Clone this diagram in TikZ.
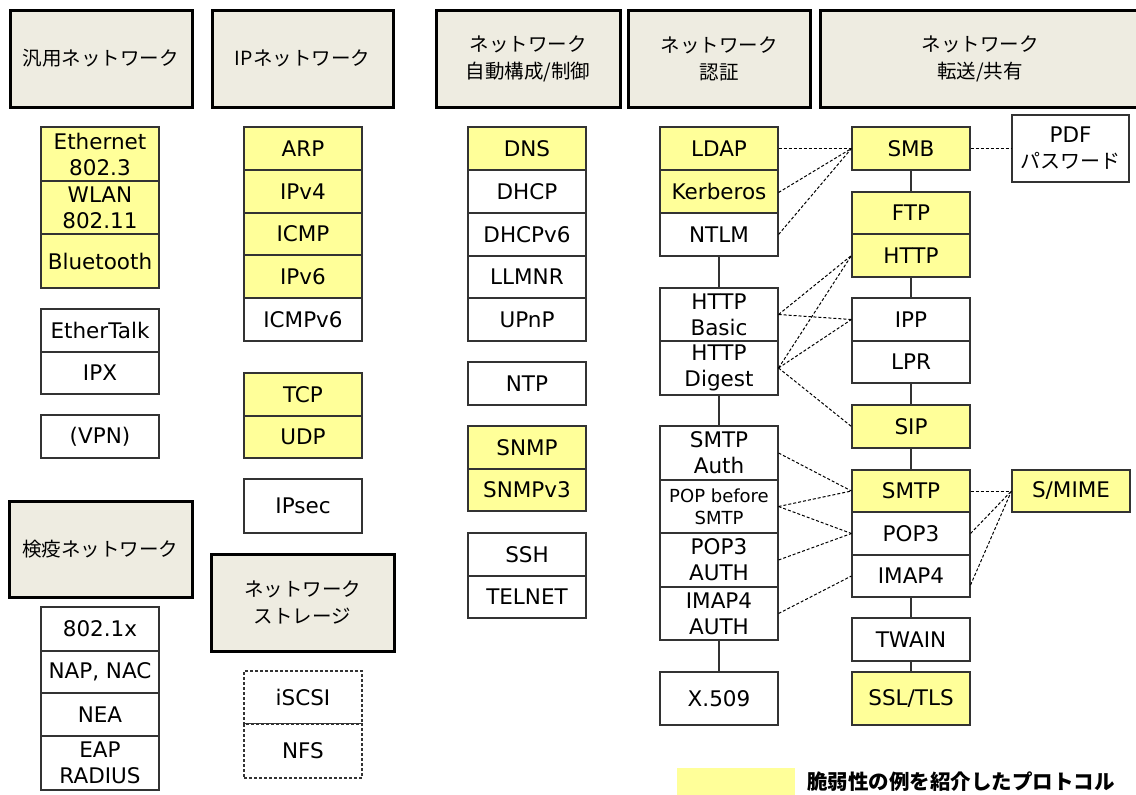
\documentclass[tikz,border=0pt]{standalone}
\usepackage{fontspec}
\setmainfont{DejaVu Sans}
\newfontfamily\cjk{Noto Sans CJK JP}
\definecolor{hdrfill}{HTML}{EEECE1}
\definecolor{vuln}{HTML}{FFFF99}
\definecolor{boxline}{HTML}{333333}
\begin{document}
\begin{tikzpicture}[x=1pt,y=-1pt,
  cell/.style={draw=boxline,line width=1.1pt,fill=white,minimum width=118pt,inner sep=0pt,align=center,font=\fontsize{21.5}{26}\selectfont},
  yc/.style={cell,fill=vuln},
  hdr/.style={draw=black,line width=3pt,fill=hdrfill,inner sep=0pt,align=center,font=\cjk\fontsize{19.5}{27}\selectfont},
  dl/.style={line width=1pt,dash pattern=on 3pt off 2pt},
  sl/.style={line width=1.1pt,draw=boxline}]
\useasboundingbox (0,0) rectangle (1136,795);
% headers
\node[hdr,minimum width=182pt,minimum height=97pt] (h1) at (101,58.5) {汎用ネットワーク};
\node[hdr,minimum width=181pt,minimum height=97pt] (h2) at (302.5,58.5) {IPネットワーク};
\node[hdr,minimum width=184pt,minimum height=97pt] (h3) at (528,58.5) {ネットワーク\\自動構成/制御};
\node[hdr,minimum width=182pt,minimum height=97pt] (h4) at (719,58.5) {ネットワーク\\認証};
\node[hdr,minimum width=330pt,minimum height=97pt] (h5) at (985,58.5) {\hspace*{-10pt}ネットワーク\\\hspace*{-10pt}転送/共有};
\node[hdr,minimum width=183pt,minimum height=96pt] (h6) at (100.5,549) {検疫ネットワーク};
\node[hdr,minimum width=183pt,minimum height=97pt] (h7) at (302.5,602.5) {ネットワーク\\ストレージ};
% column 1
\node[yc,minimum height=54pt] (eth) at (100,154) {Ethernet\\802.3};
\node[yc,minimum height=53pt] (wlan) at (100,207.5) {WLAN\\802.11};
\node[yc,minimum height=54pt] (bt) at (100,261) {Bluetooth};
\node[cell,minimum height=43pt] (etalk) at (100,330.5) {EtherTalk};
\node[cell,minimum height=42pt] (ipx) at (100,373) {IPX};
\node[cell,minimum height=43pt] (vpn) at (100,436.5) {(VPN)};
\node[cell,minimum height=44pt] (dot1x) at (100,629) {802.1x};
\node[cell,minimum height=42pt] (nap) at (100,672) {NAP, NAC};
\node[cell,minimum height=43pt] (nea) at (100,714.5) {NEA};
\node[cell,minimum height=54pt] (eap) at (100,763) {EAP\\RADIUS};
% column 2
\node[yc,minimum height=43pt] (arp) at (303,148.5) {ARP};
\node[yc,minimum height=43pt] (ipv4) at (303,191.5) {IPv4};
\node[yc,minimum height=42pt] (icmp) at (303,234) {ICMP};
\node[yc,minimum height=43pt] (ipv6) at (303,276.5) {IPv6};
\node[cell,minimum height=43pt] (icmpv6) at (303,319.5) {ICMPv6};
\node[yc,minimum height=43pt] (tcp) at (303,394.5) {TCP};
\node[yc,minimum height=42pt] (udp) at (303,437) {UDP};
\node[cell,minimum height=54pt] (ipsec) at (303,506) {IPsec};
\node[cell,densely dashed,minimum height=53pt] (iscsi) at (303,697.5) {iSCSI};
\node[cell,densely dashed,minimum height=54pt] (nfs) at (303,751) {NFS};
% column 3
\node[yc,minimum height=43pt] (dns) at (527,148.5) {DNS};
\node[cell,minimum height=43pt] (dhcp) at (527,191.5) {DHCP};
\node[cell,minimum height=43pt] (dhcpv6) at (527,234.5) {DHCPv6};
\node[cell,minimum height=42pt] (llmnr) at (527,277) {LLMNR};
\node[cell,minimum height=43pt] (upnp) at (527,319.5) {UPnP};
\node[cell,minimum height=43pt] (ntp) at (527,383.5) {NTP};
\node[yc,minimum height=43pt] (snmp) at (527,447.5) {SNMP};
\node[yc,minimum height=42pt] (snmpv3) at (527,490) {SNMPv3};
\node[cell,minimum height=43pt] (ssh) at (527,554.5) {SSH};
\node[cell,minimum height=42pt] (telnet) at (527,597) {TELNET};
% column 4
\node[yc,minimum height=43pt] (ldap) at (719,148.5) {LDAP};
\node[yc,minimum height=43pt] (kerb) at (719,191.5) {Kerberos};
\node[cell,minimum height=43pt] (ntlm) at (719,234.5) {NTLM};
\node[cell,minimum height=53pt] (hbasic) at (719,314.5) {HTTP\\Basic};
\node[cell,minimum height=54pt] (hdigest) at (719,368) {HTTP\\Digest};
\node[cell,minimum height=54pt] (smtpauth) at (719,453) {SMTP\\Auth};
\node[cell,minimum height=53pt,font=\fontsize{18}{22}\selectfont] (popb) at (719,506.5) {POP before\\SMTP};
\node[cell,minimum height=54pt] (pop3auth) at (719,560) {POP3\\AUTH};
\node[cell,minimum height=53pt] (imap4auth) at (719,613.5) {IMAP4\\AUTH};
\node[cell,minimum height=53pt] (x509) at (719,698.5) {X.509};
% column 5
\node[yc,minimum height=43pt] (smb) at (911,148.5) {SMB};
\node[yc,minimum height=42pt] (ftp) at (911,213) {FTP};
\node[yc,minimum height=43pt] (http) at (911,255.5) {HTTP};
\node[cell,minimum height=43pt] (ipp) at (911,319.5) {IPP};
\node[cell,minimum height=42pt] (lpr) at (911,362) {LPR};
\node[yc,minimum height=43pt] (sip) at (911,426.5) {SIP};
\node[yc,minimum height=42pt] (smtp) at (911,491) {SMTP};
\node[cell,minimum height=43pt] (pop3) at (911,533.5) {POP3};
\node[cell,minimum height=42pt] (imap4) at (911,576) {IMAP4};
\node[cell,minimum height=43pt] (twain) at (911,639.5) {TWAIN};
\node[yc,minimum height=53pt] (ssl) at (911,698.5) {SSL/TLS};
% column 6
\node[cell,minimum width=117pt,minimum height=67pt] (pdf) at (1070.5,148.5) {PDF\\{\cjk\fontsize{20}{24}\selectfont パスワード}};
\node[yc,minimum height=42pt] (smime) at (1071,491) {S/MIME};
% solid connectors
\draw[sl] (ntlm.south) -- (hbasic.north);
\draw[sl] (hdigest.south) -- (smtpauth.north);
\draw[sl] (imap4auth.south) -- (x509.north);
\draw[sl] (smb.south) -- (ftp.north);
\draw[sl] (http.south) -- (ipp.north);
\draw[sl] (lpr.south) -- (sip.north);
\draw[sl] (sip.south) -- (smtp.north);
\draw[sl] (imap4.south) -- (twain.north);
\draw[sl] (twain.south) -- (ssl.north);
% dashed connectors
\draw[dl] (ldap.east) -- (smb.west);
\draw[dl] ([yshift=-1pt]kerb.east) -- (smb.west);
\draw[dl] (ntlm.east) -- (smb.west);
\draw[dl] (smb.east) -- (pdf.west);
\draw[dl] (hbasic.east) -- (http.west);
\draw[dl] (hbasic.east) -- (ipp.west);
\draw[dl] (hdigest.east) -- (http.west);
\draw[dl] (hdigest.east) -- (ipp.west);
\draw[dl] (hdigest.east) -- (sip.west);
\draw[dl] (smtpauth.east) -- (smtp.west);
\draw[dl] (popb.east) -- (smtp.west);
\draw[dl] (popb.east) -- (pop3.west);
\draw[dl] (pop3auth.east) -- (pop3.west);
\draw[dl] (imap4auth.east) -- (imap4.west);
\draw[dl] (smtp.east) -- (smime.west);
\draw[dl] (pop3.east) -- (smime.west);
\draw[dl] ([yshift=-9pt]imap4.east) -- (smime.west);
% legend
\node[fill=vuln,minimum width=118pt,minimum height=30pt,inner sep=0pt] (leg) at (736,783) {};
\node[anchor=west,inner sep=0pt,font=\cjk\bfseries\fontsize{20.5}{24}\selectfont] (legtext) at (807,782) {脆弱性の例を紹介したプロトコル};
\end{tikzpicture}
\end{document}
